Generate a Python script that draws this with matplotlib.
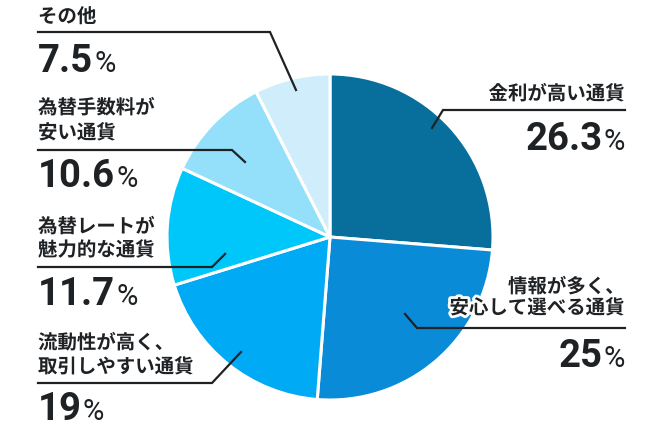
import matplotlib
matplotlib.use("Agg")
import matplotlib.pyplot as plt
import matplotlib.patheffects as pe

# ---- data ----
categories = ["金利が高い通貨", "情報が多く、\n安心して選べる通貨", "流動性が高く、\n取引しやすい通貨",
              "為替レートが\n魅力的な通貨", "為替手数料が\n安い通貨", "その他"]
values = [26.3, 25, 19, 11.7, 10.6, 7.5]
value_labels = ["26.3", "25", "19", "11.7", "10.6", "7.5"]
colors = ["#086e9c", "#0a8bd8", "#00aaf5", "#00c7fa", "#94e0fb", "#cfedfb"]

# ---- layout (pixel coordinates, y downward) ----
W, H = 660, 430
center = (330, 237)
radius = 163
layout = [
    dict(ha="right", x=625, ty=[94],       uy=110, ux=(443, 625), end=(432, 128), ny=150),
    dict(ha="right", x=625, ty=[287, 308], uy=328, ux=(417, 625), end=(405, 314), ny=367),
    dict(ha="left",  x=38,  ty=[343, 367], uy=383, ux=(38, 212),  end=(241, 352), ny=420),
    dict(ha="left",  x=38,  ty=[227, 250], uy=267, ux=(38, 212),  end=(225, 254), ny=305),
    dict(ha="left",  x=38,  ty=[108, 133], uy=150, ux=(38, 232),  end=(245, 162), ny=187),
    dict(ha="left",  x=38,  ty=[17],       uy=32,  ux=(38, 270),  end=(296, 90),  ny=72),
]

JP = ["Noto Sans CJK JP", "DejaVu Sans"]
TXT = "#1f2225"

fig = plt.figure(figsize=(W / 100, H / 100), dpi=100)
ax = fig.add_axes([0, 0, 1, 1])
ax.pie(values, colors=colors, center=center, radius=radius, startangle=-90,
       counterclock=True, wedgeprops=dict(edgecolor="white", linewidth=2.2))
ax.set_xlim(0, W)
ax.set_ylim(H, 0)
ax.set_aspect("equal")
ax.axis("off")

halo = [pe.withStroke(linewidth=4, foreground="white")]
fig.canvas.draw()
renderer = fig.canvas.get_renderer()

for cat, vl, L in zip(categories, value_labels, layout):
    lines = cat.split("\n")
    for line, y in zip(lines, L["ty"]):
        ax.text(L["x"], y, line, ha=L["ha"], va="center", fontsize=14,
                fontweight="bold", family=JP, color=TXT, path_effects=halo, zorder=5)
    ux0, ux1 = L["ux"]
    ex, ey = L["end"]
    if L["ha"] == "right":
        ax.plot([ux1, ux0, ex], [L["uy"], L["uy"], ey], color=TXT, lw=1.6,
                solid_joinstyle="miter", zorder=4)
    else:
        ax.plot([ux0, ux1, ex], [L["uy"], L["uy"], ey], color=TXT, lw=1.6,
                solid_joinstyle="miter", zorder=4)
    if L["ha"] == "right":
        pct = ax.text(L["x"], L["ny"], "%", ha="right", va="baseline", fontsize=21,
                      family=["Roboto"], color=TXT, zorder=5)
        bb = pct.get_window_extent(renderer)
        xnum = L["x"] - bb.width - 1
        ax.text(xnum, L["ny"], vl, ha="right", va="baseline", fontsize=27.5,
                fontweight="bold", family=["Roboto"], color=TXT, zorder=5)
    else:
        num = ax.text(L["x"], L["ny"], vl, ha="left", va="baseline", fontsize=27.5,
                      fontweight="bold", family=["Roboto"], color=TXT, zorder=5)
        bb = num.get_window_extent(renderer)
        ax.text(L["x"] + bb.width + 1, L["ny"], "%", ha="left", va="baseline",
                fontsize=21, family=["Roboto"], color=TXT, zorder=5)

fig.savefig("out.png", dpi=100)
